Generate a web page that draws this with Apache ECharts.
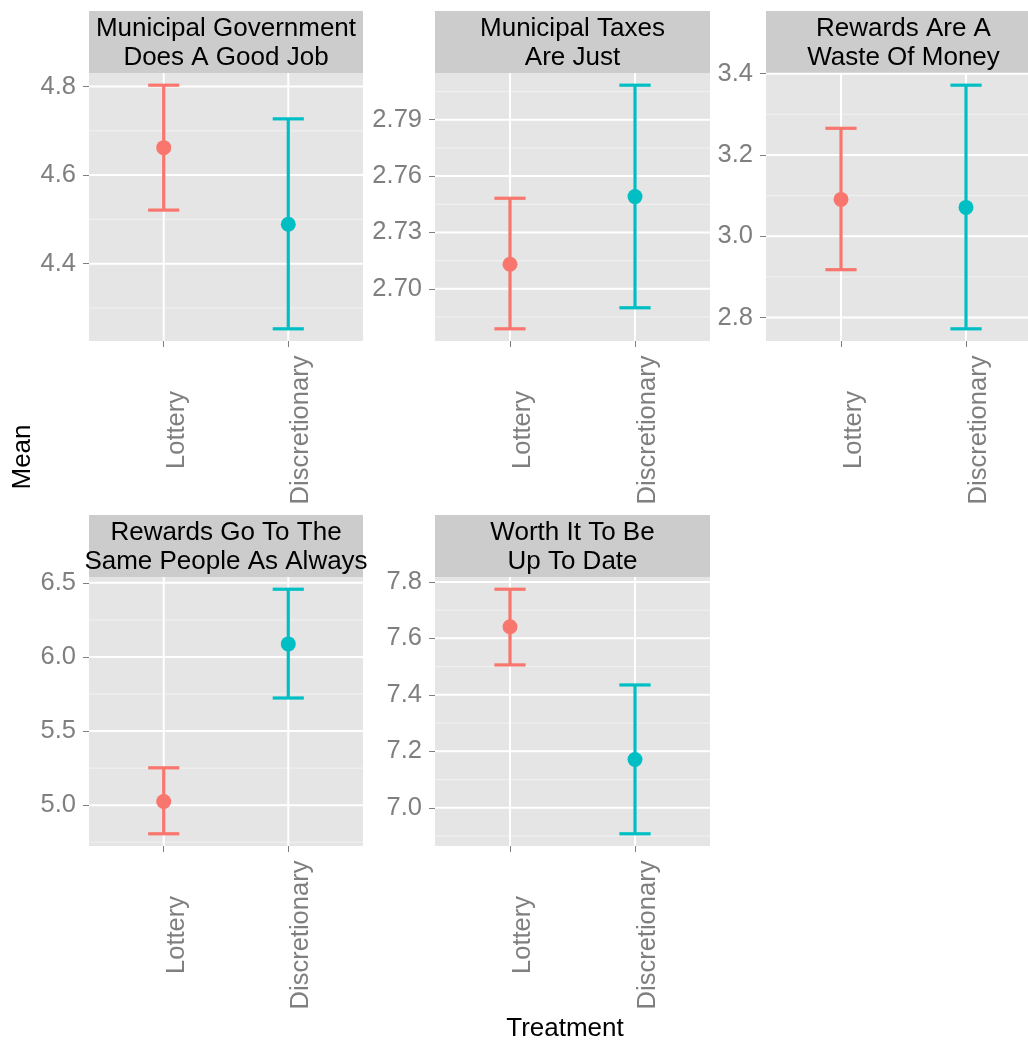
<!DOCTYPE html>
<html>
<head>
<meta charset="utf-8">
<script src="https://cdn.jsdelivr.net/npm/echarts@6/dist/echarts.min.js"></script>
<style>
  html, body { margin: 0; padding: 0; background: #ffffff; }
  #chart { width: 1028px; height: 1040px; }
</style>
</head>
<body>
<div id="chart"></div>
<script>
// Treatment groups shown on every panel's x axis
const categories = ['Lottery', 'Discretionary'];

// Facet titles
const panelTitles = [
  'Municipal Government\nDoes A Good Job',
  'Municipal Taxes\nAre Just',
  'Rewards Are A\nWaste Of Money',
  'Rewards Go To The\nSame People As Always',
  'Worth It To Be\nUp To Date'
];

// Mean and confidence limits, one entry per panel
const lotteryMean  = [4.662, 2.7131, 3.0905, 5.025, 7.641];
const lotteryLower = [4.521, 2.6787, 2.9176, 4.807, 7.506];
const lotteryUpper = [4.803, 2.7482, 3.2655, 5.252, 7.774];
const discMean     = [4.489, 2.7491, 3.0709, 6.088, 7.171];
const discLower    = [4.253, 2.6899, 2.7721, 5.723, 6.908];
const discUpper    = [4.727, 2.8084, 3.3716, 6.457, 7.435];

// Labelled y ticks per panel
const yTicks = [
  [4.4, 4.6, 4.8],
  [2.70, 2.73, 2.76, 2.79],
  [2.8, 3.0, 3.2, 3.4],
  [5.0, 5.5, 6.0, 6.5],
  [7.0, 7.2, 7.4, 7.6, 7.8]
];
const yDecimals = [1, 2, 1, 1, 1];

const groupColors = ['#F8766D', '#00BFC4'];
const FONT = '"Liberation Sans", Arial, Helvetica, sans-serif';
const GREY_TEXT = '#7F7F7F';

// Panel rectangles (plot area); the strip sits directly above each one
const panels = [
  { left: 89,  top: 73,  width: 274, height: 268 },
  { left: 435, top: 73,  width: 275, height: 268 },
  { left: 766, top: 73,  width: 275, height: 268 },
  { left: 89,  top: 577, width: 274, height: 269 },
  { left: 435, top: 577, width: 275, height: 269 }
];
const STRIP_H = 62;
const X_MIN = 0.4, X_MAX = 2.6;   // discrete axis padded by 0.6 on each side

function yRange(i) {
  const lo = Math.min(lotteryLower[i], discLower[i]);
  const hi = Math.max(lotteryUpper[i], discUpper[i]);
  const pad = (hi - lo) * 0.05;
  return [lo - pad, hi + pad];
}

function gridLineData(i, range) {
  const t = yTicks[i];
  const step = t[1] - t[0];
  const rows = [];
  t.forEach(v => rows.push([v, 1]));
  const minors = t.map(v => v - step / 2).concat([t[t.length - 1] + step / 2]);
  minors.forEach(v => { if (v > range[0] && v < range[1]) rows.push([v, 0]); });
  [1, 2].forEach(v => rows.push([v, 2]));
  return rows;
}

const grid = [], xAxis = [], yAxis = [], series = [], graphic = [];

panels.forEach((p, i) => {
  const range = yRange(i);
  grid.push({ left: p.left, top: p.top, width: p.width, height: p.height,
              outerBoundsMode: 'none', containLabel: false,
              backgroundColor: '#E5E5E5', show: true, borderWidth: 0 });

  xAxis.push({
    gridIndex: i, type: 'value', min: X_MIN, max: X_MAX,
    axisLine: { show: false },
    splitLine: { show: false },
    axisTick: { show: true, customValues: [1, 2], length: 6,
                lineStyle: { color: GREY_TEXT, width: 1 } },
    axisLabel: {
      customValues: [1, 2],
      formatter: v => categories[Math.round(v) - 1],
      rotate: 90, align: 'center', verticalAlign: 'top',
      margin: 89,
      color: GREY_TEXT, fontSize: 25.5, fontFamily: FONT
    }
  });

  yAxis.push({
    gridIndex: i, type: 'value', min: range[0], max: range[1],
    axisLine: { show: false },
    splitLine: { show: false },
    axisTick: { show: true, customValues: yTicks[i], length: 6,
                lineStyle: { color: GREY_TEXT, width: 1 } },
    axisLabel: {
      customValues: yTicks[i],
      formatter: v => Number(v).toFixed(yDecimals[i]),
      margin: 13, color: GREY_TEXT, fontSize: 25.5, fontFamily: FONT
    }
  });

  // background grid lines
  series.push({
    type: 'custom', xAxisIndex: i, yAxisIndex: i, silent: true, z: 1,
    data: gridLineData(i, range),
    renderItem: (params, api) => {
      const v = api.value(0), kind = api.value(1);
      const cs = params.coordSys;
      let shape;
      if (kind === 2) {
        const x = api.coord([v, range[0]])[0];
        shape = { x1: x, y1: cs.y, x2: x, y2: cs.y + cs.height };
      } else {
        const y = api.coord([X_MIN, v])[1];
        shape = { x1: cs.x, y1: y, x2: cs.x + cs.width, y2: y };
      }
      return {
        type: 'line', shape,
        style: { stroke: kind === 0 ? '#F2F2F2' : '#FFFFFF', lineWidth: kind === 0 ? 1 : 2 }
      };
    }
  });

  // error bars
  series.push({
    type: 'custom', xAxisIndex: i, yAxisIndex: i, silent: true, z: 2,
    data: [[1, lotteryLower[i], lotteryUpper[i]], [2, discLower[i], discUpper[i]]],
    encode: { x: 0, y: [1, 2] },
    renderItem: (params, api) => {
      const x = api.value(0), lo = api.value(1), hi = api.value(2);
      const c = groupColors[params.dataIndex];
      const half = 0.125;
      const top = api.coord([x, hi]), bot = api.coord([x, lo]);
      const tl = api.coord([x - half, hi]), tr = api.coord([x + half, hi]);
      const bl = api.coord([x - half, lo]), br = api.coord([x + half, lo]);
      const st = { stroke: c, lineWidth: 3.2 };
      return {
        type: 'group',
        children: [
          { type: 'line', shape: { x1: top[0], y1: top[1], x2: bot[0], y2: bot[1] }, style: st },
          { type: 'line', shape: { x1: tl[0], y1: tl[1], x2: tr[0], y2: tr[1] }, style: st },
          { type: 'line', shape: { x1: bl[0], y1: bl[1], x2: br[0], y2: br[1] }, style: st }
        ]
      };
    }
  });

  // means
  series.push({
    type: 'scatter', xAxisIndex: i, yAxisIndex: i, z: 3, silent: true,
    symbol: 'circle', symbolSize: 15,
    data: [[1, lotteryMean[i]], [2, discMean[i]]],
    itemStyle: { color: params => groupColors[params.dataIndex], opacity: 1 }
  });

  // facet strip
  graphic.push({
    type: 'rect', silent: true,
    shape: { x: p.left, y: p.top - STRIP_H, width: p.width, height: STRIP_H },
    style: { fill: '#CCCCCC' }
  });
  graphic.push({
    type: 'text', silent: true,
    x: p.left + p.width / 2, y: p.top - STRIP_H / 2 + 1,
    style: {
      text: panelTitles[i], textAlign: 'center', textVerticalAlign: 'middle',
      fill: '#000000', fontSize: 26, fontFamily: FONT, lineHeight: 29
    }
  });
});

// axis titles
graphic.push({
  type: 'text', silent: true, x: 23, y: 457, rotation: Math.PI / 2,
  style: { text: 'Mean', textAlign: 'center', textVerticalAlign: 'middle',
           fill: '#000000', fontSize: 26, fontFamily: FONT }
});
graphic.push({
  type: 'text', silent: true, x: 565, y: 1029,
  style: { text: 'Treatment', textAlign: 'center', textVerticalAlign: 'middle',
           fill: '#000000', fontSize: 26, fontFamily: FONT }
});

const chart = echarts.init(document.getElementById('chart'), null, { renderer: 'canvas' });
chart.setOption({
  animation: false,
  backgroundColor: '#FFFFFF',
  grid, xAxis, yAxis, series, graphic
});
</script>
</body>
</html>
